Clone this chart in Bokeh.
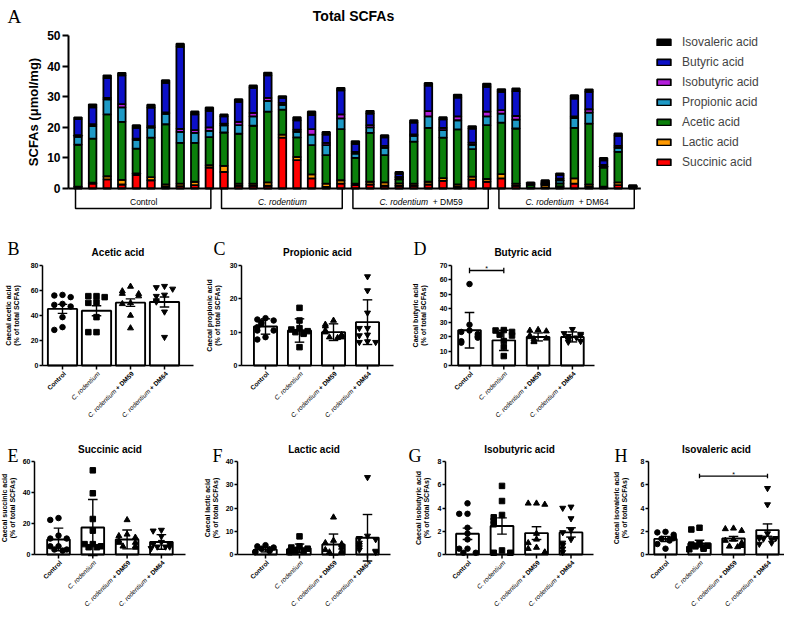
import math
from bokeh.plotting import figure
from bokeh.models import Range1d, Legend, LegendItem, FixedTicker, ColumnDataSource, LinearAxis
from bokeh.layouts import column, row
from bokeh.embed import file_html
from bokeh.resources import INLINE
from bokeh.core.properties import value

SANS = "Liberation Sans"
SERIF = "Liberation Serif"

# ---------------- Panel A : SCFA profile of every mouse ----------------
group_names = ["Control", "C. rodentium", "C. rodentium + DM59", "C. rodentium + DM64"]
group_sizes = [10, 9, 10, 10]
acid_names = ["Succinic acid", "Lactic acid", "Acetic acid", "Propionic acid",
              "Isobutyric acid", "Butyric acid", "Isovaleric acid"]
acid_colors = ["#FF0000", "#FF9900", "#0B800B", "#1E9AC6", "#B41EDC", "#0C10C8", "#000000"]

succinic = [0.5, 1.6, 3.0, 1.3, 4.4, 2.7, 0.5, 0.8, 1.1, 6.8,
            5.4, 0.9, 0.9, 0.9, 16.6, 9.3, 3.3, 0.5, 1.6,
            1.1, 1.3, 0.9, 0.9, 0.9, 1.3, 2.5, 0.5, 2.9, 2.2,
            3.3, 0.9, 0.2, 0.2, 0.5, 1.6, 0.5, 0.3, 1.1, 0.1]
lactic = [0.1, 0.3, 1.0, 1.5, 0.5, 1.0, 0.8, 0.8, 1.1, 0.8,
          2.0, 0.7, 0.7, 1.1, 1.0, 1.0, 1.3, 1.1, 1.1,
          0.5, 0.9, 1.1, 0.8, 0.7, 0.9, 0.9, 0.8, 1.0, 0.9,
          1.4, 0.7, 0.1, 0.8, 0.2, 1.7, 0.8, 0.3, 0.9, 0.1]
acetic = [13.7, 14.4, 20.2, 19.0, 8.1, 12.9, 19.7, 13.3, 12.7, 9.2,
          10.9, 16.3, 18.9, 23.1, 8.2, 6.4, 9.6, 9.3, 16.7,
          8.4, 16.0, 8.9, 1.3, 13.7, 17.6, 13.2, 18.0, 9.0, 17.6,
          16.8, 18.0, 0.8, 0.3, 1.0, 16.5, 19.9, 6.2, 10.0, 0.3]
propionic = [2.6, 4.1, 4.9, 4.7, 2.9, 3.3, 3.4, 3.6, 3.3, 2.0,
             2.3, 2.8, 3.1, 3.5, 1.5, 1.8, 3.4, 3.3, 3.5,
             1.4, 1.8, 2.4, 0.5, 1.9, 3.8, 2.5, 3.0, 1.4, 2.9,
             3.0, 2.9, 0.2, 0.3, 1.0, 3.2, 3.6, 0.5, 1.3, 0.1]
isobutyric = [0.5, 0.6, 0.5, 1.1, 0.4, 0.5, 0.5, 1.0, 0.9, 1.2,
              0.6, 1.1, 1.1, 1.0, 0.7, 0.7, 1.8, 0.7, 1.3,
              0.6, 0.7, 0.6, 0.3, 0.5, 1.7, 0.7, 1.3, 0.7, 1.5,
              1.1, 1.2, 0.1, 0.2, 0.5, 0.6, 1.1, 0.4, 0.6, 0.1]
butyric = [5.3, 5.5, 6.5, 9.4, 3.5, 6.0, 9.6, 26.8, 5.1, 5.4,
           2.4, 6.5, 8.2, 7.4, 1.6, 3.1, 4.6, 2.7, 7.9,
           2.6, 3.8, 2.8, 1.0, 3.8, 8.3, 2.8, 6.1, 4.6, 8.1,
           6.0, 8.1, 0.2, 0.3, 1.2, 5.8, 5.7, 1.5, 3.3, 0.1]
isovaleric = [0.5, 1.0, 0.9, 0.8, 0.9, 1.0, 0.9, 1.0, 1.0, 1.1,
              0.6, 0.9, 0.8, 0.9, 0.6, 1.0, 1.2, 0.9, 0.8,
              0.9, 0.9, 0.7, 0.6, 0.8, 0.9, 0.7, 1.0, 0.8, 1.1,
              0.9, 0.9, 0.4, 0.6, 0.5, 1.1, 0.8, 0.8, 0.8, 0.3]
scfa_ticks = [0, 10, 20, 30, 40, 50]

# ---------------- Panels B-H : % of total SCFAs ----------------
acetic_means = [45.3, 43.8, 50.3, 50.8]
acetic_errs = [3.6, 4.0, 3.0, 4.0]
acetic_ctrl = [56.5, 56.0, 54.7, 49.3, 48.5, 47.2, 38.7, 30.7, 28.5]
acetic_crod = [55.5, 55.5, 54.7, 50.7, 50.1, 38.7, 26.7, 26.7]
acetic_dm59 = [63.2, 59.5, 57.5, 57.3, 55.5, 50.0, 49.3, 40.0, 29.9]
acetic_dm64 = [63.5, 62.5, 61.3, 56.5, 55.5, 52.0, 51.0, 43.0, 22.7]

propionic_means = [11.7, 10.5, 10.0, 13.0]
propionic_errs = [2.3, 3.5, 2.5, 6.7]
propionic_ctrl = [14.2, 13.8, 13.5, 13.0, 12.5, 11.5, 10.5, 10.5, 8.5, 7.8]
propionic_crod = [17.3, 13.5, 11.2, 10.8, 10.3, 10.0, 9.8, 9.5, 5.5]
propionic_dm59 = [13.5, 12.3, 11.8, 10.5, 10.0, 9.2, 9.0, 8.5, 8.5, 8.3]
propionic_dm64 = [26.7, 22.5, 15.8, 11.2, 11.2, 9.2, 9.0, 7.2, 7.0, 7.0]

butyric_means = [24.7, 17.6, 20.0, 20.0]
butyric_errs = [12.4, 7.1, 2.8, 3.5]
butyric_ctrl = [57.0, 28.5, 24.5, 23.5, 22.0, 20.5, 19.5, 17.0, 16.0]
butyric_crod = [24.8, 24.5, 23.5, 21.6, 21.0, 17.1, 12.9, 6.6]
butyric_dm59 = [25.0, 24.5, 24.0, 21.0, 20.0, 19.0, 18.5, 17.0, 16.5]
butyric_dm64 = [25.4, 22.5, 22.0, 21.0, 20.5, 19.5, 18.0, 17.0, 16.5]

succinic_means = [9.7, 17.4, 9.7, 8.1]
succinic_errs = [7.3, 18.1, 6.1, 4.7]
succinic_ctrl = [23.5, 22.3, 12.2, 10.3, 10.3, 5.3, 5.3, 3.2, 3.2, 2.5]
succinic_crod = [54.3, 39.5, 22.9, 15.4, 6.7, 6.7, 5.3, 4.7, 4.7]
succinic_dm59 = [22.3, 13.0, 12.0, 11.0, 9.0, 7.7, 7.7, 5.3, 5.3, 4.5]
succinic_dm64 = [15.8, 15.3, 11.8, 8.0, 6.7, 6.7, 5.0, 5.0, 5.0, 4.0]

lactic_means = [2.1, 2.7, 4.3, 7.2]
lactic_errs = [1.0, 1.8, 4.5, 10.0]
lactic_ctrl = [4.0, 3.5, 3.0, 2.5, 2.2, 2.0, 1.5, 1.2, 1.0]
lactic_crod = [7.8, 3.5, 3.0, 2.5, 2.0, 1.5, 1.5, 1.2, 1.0]
lactic_dm59 = [16.0, 6.0, 5.0, 4.5, 4.0, 3.0, 2.0, 1.5, 1.0, 1.0]
lactic_dm64 = [33.2, 8.0, 7.0, 6.5, 5.0, 4.0, 3.0, 2.0, 1.5, 1.0]

isobutyric_means = [1.78, 2.45, 1.84, 1.90]
isobutyric_errs = [0.49, 0.70, 0.55, 0.40]
isobutyric_ctrl = [4.4, 3.5, 3.5, 2.3, 1.8, 1.3, 0.5, 0.5, 0.15, 0.15]
isobutyric_crod = [5.9, 4.6, 3.4, 3.2, 2.9, 2.6, 0.35, 0.15, 0.15]
isobutyric_dm59 = [4.4, 4.4, 4.3, 1.8, 1.3, 1.0, 0.6, 0.5, 0.2, 0.15]
isobutyric_dm64 = [4.1, 4.0, 3.1, 2.1, 1.9, 1.3, 1.0, 0.8, 0.5, 0.2]

isovaleric_means = [1.34, 0.94, 1.37, 2.10]
isovaleric_errs = [0.22, 0.29, 0.19, 0.53]
isovaleric_ctrl = [1.95, 1.9, 1.7, 1.5, 1.4, 1.35, 1.3, 1.2, 0.9, 0.5]
isovaleric_crod = [2.3, 2.15, 0.95, 0.85, 0.75, 0.7, 0.6, 0.5, 0.45]
isovaleric_dm59 = [2.25, 2.2, 2.05, 1.3, 1.2, 1.0, 0.9, 0.75, 0.7, 0.65]
isovaleric_dm64 = [5.7, 4.3, 1.8, 1.5, 1.4, 1.4, 1.35, 1.3, 1.0, 0.9]

group_markers = ["circle", "square", "triangle", "inverted_triangle"]

# ---------------- helpers ----------------
REG = {'C': .722, '.': .278, ' ': .278, 'r': .333, 'o': .556, 'd': .556, 'e': .556, 'n': .556,
       't': .278, 'i': .222, 'u': .556, 'm': .833, '+': .584, 'D': .722, 'M': .833}
BOLD = {' ': .278, '+': .584, 'D': .722, 'M': .833}


def text_w(s, size, table):
    return sum(table.get(ch, .556) for ch in s) * size


def make_fig(w, h, xr, yr):
    p = figure(width=w, height=h, x_range=xr, y_range=yr, x_axis_type=None, y_axis_type=None,
               output_backend="svg", toolbar_location=None, min_border=0,
               min_border_left=0, min_border_right=0, min_border_top=0, min_border_bottom=0)
    p.title.text = ""
    p.title.visible = False
    p.outline_line_color = None
    p.background_fill_color = "white"
    p.border_fill_color = "white"
    return p


def style_axis(ax, size, tick_out, lw):
    ax.axis_line_width = lw
    ax.major_tick_line_width = lw
    ax.major_tick_out = tick_out
    ax.major_tick_in = 0
    ax.minor_tick_line_color = None
    ax.major_label_text_font = SANS
    ax.major_label_text_font_style = "bold"
    ax.major_label_text_font_size = size
    ax.major_label_text_color = "black"
    ax.major_label_standoff = 1
    ax.axis_label_text_font = SANS
    ax.axis_label_text_font_style = "bold"
    ax.axis_label_text_color = "black"


def txt(p, x, y, s, size, style="normal", align="center", baseline="alphabetic",
        font=SANS, angle=0.0):
    p.text(x=[x], y=[y], text=[s], angle=angle, text_align=align, text_baseline=baseline,
           text_font=value(font), text_font_size=f"{size}px", text_font_style=style,
           text_color="black")


def spread(vals, ymax):
    pattern = [0.0, -0.24, 0.24, -0.12, 0.12, -0.3, 0.3]
    offs, seen = [], []
    for v in vals:
        k = sum(1 for u in seen if abs(u - v) < ymax * 0.05)
        offs.append(pattern[k % len(pattern)])
        seen.append(v)
    return offs


# ---------------- Panel A ----------------
A_W, A_H = 784, 212
A_C0, A_PITCH = 77.5, 14.6      # first bar centre / bar pitch (px)
A_ZERO, A_PPU = 188.0, 3.06     # y pixel of 0 / px per unit
A_AXIS_X = 68


def aX(px):
    return (px - A_C0) / A_PITCH


def aY(py):
    return (A_ZERO - py) / A_PPU


n_bars = sum(group_sizes)
pA = make_fig(A_W, A_H, Range1d(aX(0), aX(A_W)), Range1d(aY(A_H), aY(0)))

srcA = ColumnDataSource(dict(x=list(range(n_bars)),
                             **{acid_names[0]: succinic, acid_names[1]: lactic,
                                acid_names[2]: acetic, acid_names[3]: propionic,
                                acid_names[4]: isobutyric, acid_names[5]: butyric,
                                acid_names[6]: isovaleric}))
stack_r = pA.vbar_stack(acid_names, x="x", width=0.52, source=srcA,
                        fill_color=acid_colors, line_color="black", line_width=1.8)
pA.segment(x0=[aX(A_AXIS_X)], y0=[0], x1=[n_bars - 0.45], y1=[0],
           line_color="black", line_width=2)

ya = LinearAxis(fixed_location=aX(A_AXIS_X), bounds=(0, 50),
                ticker=FixedTicker(ticks=scfa_ticks), axis_label="SCFAs (\u03bcmol/mg)")
style_axis(ya, "12px", 6, 2)
ya.axis_label_text_font_size = "13px"
ya.axis_label_standoff = 3
ya.major_label_standoff = 2
pA.add_layout(ya, "left")

# group brackets under the bars
starts = [sum(group_sizes[:g]) for g in range(len(group_sizes))]
bx, by = [], []
for s, nsz in zip(starts, group_sizes):
    l, r = s - 0.17, s + nsz - 1 + 0.1
    bx.append([l, l, r, r])
    by.append([-0.2, -6.5, -6.5, -0.2])
pA.multi_line(bx, by, line_color="black", line_width=1.5)
gfs = 8.5
gy = aY(201.5)
for g, (s, nsz) in enumerate(zip(starts, group_sizes)):
    cx = s + (nsz - 1) / 2
    name = group_names[g]
    if name.startswith("C. rodentium"):
        rest = name[len("C. rodentium"):].strip()
        wi = text_w("C. rodentium", gfs, REG)
        gap = text_w("  ", gfs, REG) if rest else 0
        wr = text_w(rest, gfs, REG) if rest else 0
        left = cx - (wi + gap + wr) / 2 / A_PITCH
        txt(pA, left, gy, "C. rodentium", gfs, "italic", "left")
        if rest:
            txt(pA, left + (wi + gap) / A_PITCH, gy, rest, gfs, "normal", "left")
    else:
        txt(pA, cx, gy, name, gfs)

legend = Legend(items=[LegendItem(label=acid_names[i], renderers=[stack_r[i]])
                       for i in reversed(range(len(acid_names)))],
                location=(655, 41.5), glyph_width=17, glyph_height=8, label_height=17,
                spacing=3, padding=0, margin=0, border_line_color=None,
                background_fill_alpha=0, label_text_font=SANS, label_text_font_size="12px",
                label_standoff=10)
pA.add_layout(legend)
txt(pA, aX(355), aY(15.5), "Total  SCFAs", 14, "bold")
txt(pA, aX(7), aY(16), "A", 19, font=SERIF, align="left")


# ---------------- small panels ----------------
def small_panel(title, ylabel, letter, ymax, ystep, means, errs, groups, spec, sig=None):
    fx0, fy0, w, h = spec["fig"]
    axL, axR, c0, pitch = spec["axL"], spec["axR"], spec["c0"], spec["pitch"]
    top, zero = spec["top"], spec["zero"]
    ppu = (zero - top) / ymax

    def X(px):
        return (px - c0) / pitch

    def Y(py):
        return (zero - py) / ppu

    p = make_fig(w, h, Range1d(X(fx0), X(fx0 + w)), Range1d(Y(fy0 + h), Y(fy0)))
    xs = list(range(len(means)))
    p.vbar(x=xs, top=means, width=spec["bar_w"], fill_color="white", line_color="black",
           line_width=1.9)
    lo = [m - e for m, e in zip(means, errs)]
    hi = [m + e for m, e in zip(means, errs)]
    cw = 0.14
    p.segment(x0=xs, y0=lo, x1=xs, y1=hi, line_color="black", line_width=1.4)
    p.segment(x0=[x - cw for x in xs], y0=hi, x1=[x + cw for x in xs], y1=hi,
              line_color="black", line_width=1.4)
    p.segment(x0=[x - cw for x in xs], y0=lo, x1=[x + cw for x in xs], y1=lo,
              line_color="black", line_width=1.4)
    for k, vals in enumerate(groups):
        offs = spread(vals, ymax)
        p.scatter(x=[k + o for o in offs], y=vals, marker=group_markers[k],
                  size=5.5 if k < 2 else 6, fill_color="black", line_color="black")
    if sig:
        i, j, hh, d = sig
        p.segment(x0=[i], y0=[hh], x1=[j], y1=[hh], line_color="black", line_width=1.3)
        p.segment(x0=[i, j], y0=[hh - d, hh - d], x1=[i, j], y1=[hh + d, hh + d],
                  line_color="black", line_width=1.3)
        txt(p, (i + j) / 2, hh + 2 / ppu, "*", 7)

    # axes
    p.segment(x0=[X(axL)], y0=[0], x1=[X(axR)], y1=[0], line_color="black", line_width=1.5)
    p.segment(x0=xs, y0=[0] * len(xs), x1=xs, y1=[Y(zero + 4)] * len(xs),
              line_color="black", line_width=1.5)
    yax = LinearAxis(fixed_location=X(axL), bounds=(0, ymax),
                     ticker=FixedTicker(ticks=list(range(0, ymax + 1, ystep))),
                     axis_label=ylabel)
    style_axis(yax, "7px", 3, 1.5)
    yax.axis_label_text_font_size = "7px"
    yax.axis_label_text_line_height = 1.05
    yax.axis_label_standoff = spec["lab_gap"]
    p.add_layout(yax, "left")

    # rotated tick labels (italic species name, bold treatment)
    fs = 6.5
    c45 = math.cos(math.pi / 4)
    ly = Y(zero + 7)
    for k, name in enumerate(group_names):
        lx = k + 2 / pitch
        if name.startswith("C. rodentium"):
            rest = name[len("C. rodentium"):].strip()
            shift = 0.0
            if rest:
                txt(p, lx, ly, rest, fs, "bold", "right", "middle", angle=math.pi / 4)
                shift = text_w(" " + rest, fs, BOLD)
            txt(p, lx - shift * c45 / pitch, ly - shift * c45 / ppu, "C. rodentium", fs,
                "italic", "right", "middle", angle=math.pi / 4)
        else:
            txt(p, lx, ly, name, fs, "bold", "right", "middle", angle=math.pi / 4)

    txt(p, X((axL + axR) / 2), Y(spec["title_base"]), title, 10, "bold")
    txt(p, X(spec["letter_x"]), Y(spec["letter_base"]), letter, 18, font=SERIF, align="left")
    return p


R2 = dict(top=265, zero=365, title_base=252, letter_base=248)
R3 = dict(top=461, zero=554, title_base=449, letter_base=455)

pB = small_panel("Acetic acid", "Caecal acetic acid\n(% of total SCFAs)", "B", 80, 20,
                 acetic_means, acetic_errs, [acetic_ctrl, acetic_crod, acetic_dm59, acetic_dm64],
                 dict(R2, fig=(0, 212, 205, 208), axL=42, axR=193, c0=62, pitch=34,
                      bar_w=0.86, letter_x=7, lab_gap=8))
pC = small_panel("Propionic acid", "Caecal propionic acid\n(% of total SCFAs)", "C", 30, 10,
                 propionic_means, propionic_errs,
                 [propionic_ctrl, propionic_crod, propionic_dm59, propionic_dm64],
                 dict(R2, fig=(205, 212, 203, 208), axL=241, axR=393, c0=265, pitch=34,
                      bar_w=0.68, letter_x=213, lab_gap=6))
pD = small_panel("Butyric acid", "Caecal butyric acid\n(% of total SCFAs)", "D", 70, 10,
                 butyric_means, butyric_errs,
                 [butyric_ctrl, butyric_crod, butyric_dm59, butyric_dm64],
                 dict(R2, fig=(408, 212, 376, 208), axL=451, axR=594, c0=469, pitch=34.3,
                      bar_w=0.66, letter_x=413, lab_gap=10),
                 sig=(0, 1, 66.5, 2.0))
pE = small_panel("Succinic acid", "Caecal succinic acid\n(% of total SCFAs)", "E", 60, 20,
                 succinic_means, succinic_errs,
                 [succinic_ctrl, succinic_crod, succinic_dm59, succinic_dm64],
                 dict(R3, fig=(0, 420, 200, 189), axL=34, axR=185, c0=58, pitch=34.3,
                      bar_w=0.66, letter_x=7, lab_gap=4))
pF = small_panel("Lactic acid", "Caecal lactic acid\n(% of total SCFAs)", "F", 40, 10,
                 lactic_means, lactic_errs, [lactic_ctrl, lactic_crod, lactic_dm59, lactic_dm64],
                 dict(R3, fig=(200, 420, 200, 189), axL=237, axR=390, c0=265, pitch=34,
                      bar_w=0.66, letter_x=212, lab_gap=4))
pG = small_panel("Isobutyric acid", "Caecal isobutyric acid\n(% of total SCFAs)", "G", 8, 2,
                 isobutyric_means, isobutyric_errs,
                 [isobutyric_ctrl, isobutyric_crod, isobutyric_dm59, isobutyric_dm64],
                 dict(R3, fig=(400, 420, 208, 189), axL=445, axR=593, c0=467, pitch=34.5,
                      bar_w=0.66, letter_x=408, lab_gap=5))
pH = small_panel("Isovaleric acid", "Caecal isovaleric acid\n(% of total SCFAs)", "H", 8, 2,
                 isovaleric_means, isovaleric_errs,
                 [isovaleric_ctrl, isovaleric_crod, isovaleric_dm59, isovaleric_dm64],
                 dict(R3, fig=(608, 420, 176, 189), axL=648, axR=784, c0=665, pitch=34,
                      bar_w=0.66, letter_x=614, lab_gap=10),
                 sig=(1, 3, 6.75, 0.2))

layout = column(pA, row(pB, pC, pD), row(pE, pF, pG, pH))
open("out.html", "w").write(file_html(layout, INLINE))
